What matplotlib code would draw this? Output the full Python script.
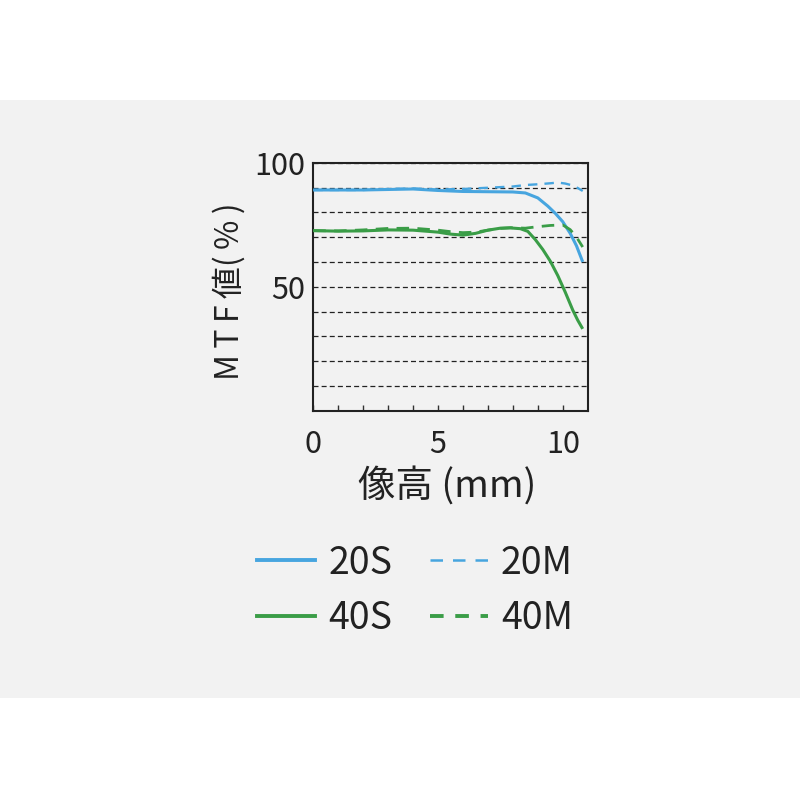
import matplotlib
matplotlib.use("Agg")
import matplotlib.pyplot as plt
from matplotlib.lines import Line2D
from matplotlib.patches import Rectangle

plt.rcParams['font.family'] = ['Noto Sans CJK JP', 'DejaVu Sans']

# Data (image height in mm vs MTF %)
x_20s = [0, 1, 2, 3, 4, 5, 6, 7, 8, 8.5, 9.0, 9.4, 9.7, 10.0, 10.3, 10.55, 10.8]
y_20s = [89.0, 89.0, 89.0, 89.2, 89.4, 88.8, 88.4, 88.3, 88.2, 87.8, 85.8, 82.5, 79.6, 76.2, 71.5, 66.5, 60.0]

x_20m = [0, 1, 2, 3, 4, 5, 6, 7, 8, 8.5, 9.0, 9.5, 9.8, 10.1, 10.4, 10.6, 10.8]
y_20m = [89.0, 89.0, 89.0, 89.4, 89.6, 89.2, 89.4, 89.9, 90.4, 91.0, 91.3, 91.7, 92.0, 91.6, 90.8, 89.8, 88.6]

x_40s = [0, 1, 2, 3, 4, 5, 5.5, 6.0, 6.5, 7.0, 7.5, 7.9, 8.3, 8.6, 8.9, 9.2, 9.5, 9.8, 10.1, 10.4, 10.6, 10.8]
y_40s = [72.6, 72.4, 72.5, 72.9, 72.8, 72.0, 71.2, 70.8, 71.5, 72.8, 73.6, 73.7, 73.4, 72.3, 69.0, 65.0, 60.3, 54.5, 47.8, 40.6, 36.5, 33.0]

x_40m = [0, 1, 2, 3, 4, 5, 5.5, 6.0, 6.5, 7.0, 7.5, 7.9, 8.5, 9.0, 9.5, 10.0, 10.3, 10.55, 10.8]
y_40m = [72.6, 72.5, 72.9, 73.5, 73.6, 72.8, 72.2, 71.8, 72.0, 72.8, 73.5, 73.8, 73.6, 74.2, 74.7, 74.9, 73.0, 70.0, 66.0]

series_labels = ['20S', '20M', '40S', '40M']
x_ticklabels = ['0', '5', '10']
y_ticklabels = ['50', '100']

BLUE = '#47a5df'
GREEN = '#3a9d47'
BG = '#f2f2f2'

fig = plt.figure(figsize=(8, 8), dpi=100)
fig.patch.set_facecolor('white')
band = Rectangle((0, 1 - 698 / 800), 1, (698 - 100) / 800,
                 transform=fig.transFigure, facecolor=BG,
                 edgecolor='none', zorder=-10)
fig.patches.append(band)

ax = fig.add_axes([313.3 / 800, 1 - 410.7 / 800, 274.4 / 800, 248 / 800])
ax.set_zorder(5)
ax.set_facecolor(BG)

ax.plot(x_20s, y_20s, color=BLUE, lw=2.2, solid_capstyle='butt', zorder=4)
ax.plot(x_20m, y_20m, color=BLUE, lw=1.7, ls=(0, (4, 3)), zorder=4)
ax.plot(x_40s, y_40s, color=GREEN, lw=2.2, solid_capstyle='butt', zorder=4)
ax.plot(x_40m, y_40m, color=GREEN, lw=2.0, ls=(0, (4.5, 3)), zorder=4)

ax.set_xlim(0, 11)
ax.set_ylim(0, 100)

# x ticks: inward marks every 1, labels at 0,5,10
xt = list(range(0, 11))
ax.set_xticks(xt)
ax.set_xticklabels([x_ticklabels[[0, 5, 10].index(v)] if v in (0, 5, 10) else '' for v in xt])
ax.tick_params(axis='x', direction='in', length=4, width=1.0, color='#333333',
               labelsize=22, pad=13, labelcolor='#222222')

yt = list(range(0, 101, 10))
ax.set_yticks(yt)
ax.set_yticklabels([y_ticklabels[[50, 100].index(v)] if v in (50, 100) else '' for v in yt])
ax.tick_params(axis='y', length=0, labelsize=22, pad=6, labelcolor='#222222')

ax.yaxis.grid(True, color='#222222', lw=0.9, ls=(0, (4, 2.5)))
ax.set_axisbelow(True)
for s in ax.spines.values():
    s.set_linewidth(1.5)
    s.set_color('#222222')

fig.text(229 / 800, 1 - 291 / 800, 'M\u2009T\u2009F\u2009値(\u2009%\u2009)', rotation=90,
         ha='center', va='center', fontsize=23, color='#222222')
fig.text(447 / 800, 1 - 486 / 800, '像高 (mm)', ha='center', va='center',
         fontsize=27, color='#222222')

handles = [
    Line2D([], [], color=BLUE, lw=2.8),
    Line2D([], [], color=GREEN, lw=2.8),
    Line2D([], [], color=BLUE, lw=1.8, ls=(0, (5, 4))),
    Line2D([], [], color=GREEN, lw=2.8, ls=(0, (3.5, 3))),
]
labels = [series_labels[0], series_labels[2], series_labels[1], series_labels[3]]
leg = fig.legend(handles, labels, ncol=2, loc='center',
                 bbox_to_anchor=(415 / 800, 1 - 591 / 800),
                 frameon=False, fontsize=27, handlelength=1.55,
                 handletextpad=0.35, columnspacing=1.0, labelspacing=0.45,
                 labelcolor='#222222')

fig.savefig('out.png', dpi=100, facecolor='white')
